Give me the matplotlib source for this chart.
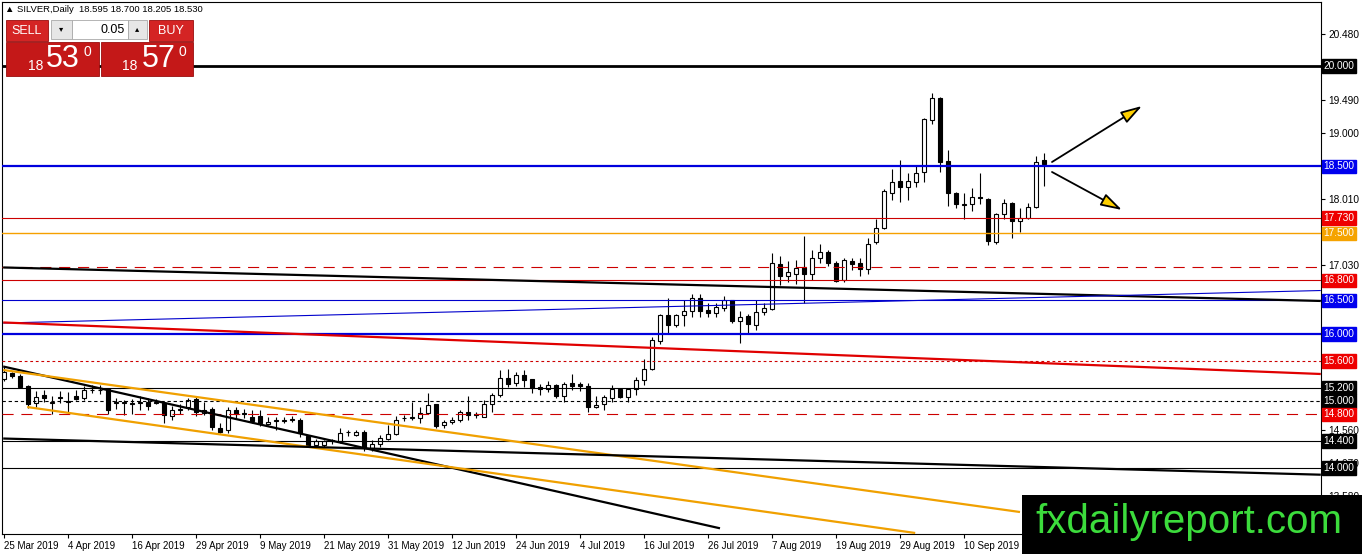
import matplotlib
matplotlib.use("Agg")
import matplotlib.pyplot as plt
from matplotlib.patches import Rectangle
from matplotlib.transforms import blended_transform_factory

plt.rcParams['font.family'] = ['Liberation Sans', 'DejaVu Sans']

# daily OHLC, 25 Mar 2019 .. late Sep 2019
opens = [15.33, 15.42, 15.38, 15.22, 14.97, 15.09, 14.97, 15.05, 14.99, 15.08,
         15.04, 15.16, 15.16, 15.18, 14.97, 14.97, 14.96, 14.97, 14.98, 14.97,
         14.97, 14.77, 14.87, 14.91, 15.03, 14.82, 14.88, 14.60, 14.56, 14.86,
         14.81, 14.76, 14.77, 14.65, 14.70, 14.70, 14.72, 14.72, 14.48, 14.35,
         14.34, 14.41, 14.40, 14.53, 14.50, 14.54, 14.30, 14.36, 14.43, 14.51,
         14.74, 14.75, 14.74, 14.82, 14.95, 14.64, 14.68, 14.71, 14.84, 14.79,
         14.76, 14.95, 15.09, 15.35, 15.27, 15.39, 15.33, 15.21, 15.18, 15.24,
         15.08, 15.27, 15.25, 15.22, 14.91, 14.95, 15.04, 15.18, 15.06, 15.18,
         15.32, 15.48, 15.90, 16.29, 16.14, 16.29, 16.34, 16.53, 16.36, 16.32,
         16.39, 16.50, 16.19, 16.27, 16.14, 16.33, 16.38, 17.05, 16.87, 16.90,
         17.00, 16.89, 17.14, 17.22, 17.06, 16.81, 17.09, 17.06, 16.97, 17.37,
         17.58, 18.11, 18.28, 18.20, 18.27, 18.42, 19.20, 19.52, 18.58, 18.10,
         17.93, 17.94, 18.04, 18.02, 17.37, 17.79, 17.95, 17.69, 17.73, 17.90,
         18.595]
highs = [15.50, 15.44, 15.40, 15.24, 15.15, 15.17, 15.07, 15.15, 15.14, 15.17,
         15.22, 15.24, 15.24, 15.20, 15.04, 15.01, 15.03, 15.07, 15.04, 15.03,
         14.99, 14.92, 14.96, 15.04, 15.07, 14.99, 14.91, 14.67, 14.91, 14.91,
         14.88, 14.86, 14.86, 14.76, 14.76, 14.76, 14.77, 14.74, 14.49, 14.44,
         14.42, 14.44, 14.59, 14.56, 14.56, 14.57, 14.42, 14.50, 14.64, 14.77,
         14.79, 14.98, 14.91, 15.12, 14.96, 14.71, 14.76, 14.86, 15.08, 14.84,
         15.01, 15.12, 15.46, 15.48, 15.43, 15.46, 15.33, 15.26, 15.30, 15.25,
         15.29, 15.41, 15.29, 15.27, 15.07, 15.09, 15.24, 15.19, 15.20, 15.36,
         15.63, 15.95, 16.30, 16.53, 16.30, 16.50, 16.60, 16.60, 16.46, 16.46,
         16.56, 16.51, 16.34, 16.30, 16.51, 16.47, 17.21, 17.17, 17.09, 17.11,
         17.46, 17.25, 17.35, 17.25, 17.09, 17.13, 17.14, 17.13, 17.43, 17.72,
         18.16, 18.46, 18.60, 18.41, 18.51, 19.22, 19.59, 19.54, 18.75, 18.12,
         18.11, 18.18, 18.41, 18.03, 17.80, 18.02, 17.97, 17.88, 17.95, 18.66,
         18.700]
lows = [15.30, 15.34, 15.19, 14.89, 14.91, 14.98, 14.80, 14.97, 14.84, 15.01,
        15.02, 15.12, 15.10, 14.81, 14.88, 14.79, 14.81, 14.86, 14.87, 14.95,
        14.67, 14.72, 14.80, 14.87, 14.77, 14.79, 14.57, 14.52, 14.52, 14.74,
        14.74, 14.67, 14.63, 14.64, 14.57, 14.67, 14.68, 14.46, 14.32, 14.32,
        14.31, 14.36, 14.37, 14.48, 14.48, 14.25, 14.25, 14.32, 14.42, 14.50,
        14.70, 14.72, 14.67, 14.80, 14.59, 14.59, 14.65, 14.68, 14.71, 14.75,
        14.76, 14.84, 15.06, 15.21, 15.22, 15.21, 15.12, 15.09, 15.14, 15.05,
        14.99, 15.17, 15.15, 14.83, 14.90, 14.86, 14.99, 15.04, 14.98, 15.09,
        15.24, 15.46, 15.85, 16.02, 16.10, 16.12, 16.26, 16.26, 16.26, 16.26,
        16.34, 16.17, 15.86, 16.02, 16.06, 16.29, 16.36, 16.73, 16.78, 16.75,
        16.47, 16.80, 17.06, 17.01, 16.78, 16.78, 16.95, 16.87, 16.90, 17.35,
        17.57, 18.00, 17.97, 18.00, 18.20, 18.27, 19.13, 18.42, 17.91, 17.88,
        17.72, 17.83, 17.94, 17.33, 17.35, 17.71, 17.44, 17.52, 17.71, 17.88,
        18.205]
closes = [15.43, 15.37, 15.21, 14.95, 15.06, 15.04, 14.98, 15.06, 15.00, 15.03,
          15.17, 15.17, 15.17, 14.87, 14.98, 14.98, 14.97, 14.98, 14.93, 14.98,
          14.79, 14.87, 14.88, 15.02, 14.84, 14.87, 14.61, 14.54, 14.86, 14.81,
          14.82, 14.70, 14.67, 14.69, 14.71, 14.71, 14.73, 14.52, 14.35, 14.41,
          14.41, 14.42, 14.52, 14.54, 14.54, 14.30, 14.36, 14.45, 14.51, 14.71,
          14.75, 14.76, 14.82, 14.94, 14.62, 14.68, 14.71, 14.83, 14.79, 14.80,
          14.95, 15.09, 15.34, 15.26, 15.39, 15.32, 15.20, 15.18, 15.24, 15.07,
          15.25, 15.23, 15.22, 14.91, 14.94, 15.06, 15.18, 15.06, 15.18, 15.31,
          15.48, 15.91, 16.28, 16.13, 16.28, 16.34, 16.53, 16.34, 16.32, 16.40,
          16.50, 16.19, 16.26, 16.15, 16.33, 16.39, 17.06, 16.87, 16.92, 16.99,
          16.89, 17.14, 17.22, 17.06, 16.79, 17.11, 17.05, 16.97, 17.35, 17.58,
          18.13, 18.27, 18.20, 18.28, 18.40, 19.21, 19.52, 18.57, 18.10, 17.94,
          17.94, 18.04, 18.03, 17.39, 17.79, 17.95, 17.68, 17.73, 17.90, 18.57,
          18.530]

date_labels = ['25 Mar 2019', '4 Apr 2019', '16 Apr 2019', '29 Apr 2019', '9 May 2019',
               '21 May 2019', '31 May 2019', '12 Jun 2019', '24 Jun 2019', '4 Jul 2019',
               '16 Jul 2019', '26 Jul 2019', '7 Aug 2019', '19 Aug 2019', '29 Aug 2019',
               '10 Sep 2019']
date_bars = [0, 8, 16, 24, 32, 40, 48, 56, 64, 72, 80, 88, 96, 104, 112, 120]

# price-scale ticks that are not covered by a level label
scale_ticks = [20.480, 19.490, 19.000, 18.010, 17.030, 14.560, 14.070, 13.580]

# horizontal levels: price, line colour, label colour, width, style, labelled
levels = [
    (20.000, 'black', 'black', 2.0, '-', True),
    (18.500, '#0000dd', '#0000ee', 1.6, '-', True),
    (17.730, '#cc0000', '#ee0000', 0.8, '-', True),
    (17.500, '#f5a000', '#f5a300', 1.0, '-', True),
    (17.000, '#cc0000', None, 0.8, (0, (10, 7)), False),
    (16.800, '#cc0000', '#ee0000', 0.8, '-', True),
    (16.500, '#0000cc', '#0000ee', 0.8, '-', True),
    (16.000, '#0000dd', '#0000ee', 1.6, '-', True),
    (15.600, '#cc0000', '#ee0000', 0.8, (0, (2.5, 2.5)), True),
    (15.200, 'black', 'black', 0.8, '-', True),
    (15.000, 'black', 'black', 0.8, (0, (3, 2.5)), True),
    (14.800, '#cc0000', '#ee0000', 0.8, (0, (10, 7)), True),
    (14.400, 'black', 'black', 0.8, '-', True),
    (14.000, 'black', 'black', 0.8, '-', True),
]

# trend lines as (bar, price) anchor pairs
trend_lines = [
    ((-0.1, 15.515), (89.5, 13.10), 'black', 1.6),
    ((-0.1, 15.463), (127.0, 13.343), '#f0a000', 1.6),
    ((2.9, 14.91), (113.9, 13.03), '#f0a000', 1.6),
    ((-0.1, 16.993), (164.6, 16.493), 'black', 1.6),
    ((-0.1, 16.164), (164.6, 16.649), '#0000cc', 0.8),
    ((-0.1, 16.172), (164.6, 15.403), '#e00000', 1.6),
    ((-0.1, 14.44), (164.6, 13.90), 'black', 1.6),
]

arrows = [((131.0, 18.567), (142.25, 19.403)),
          ((131.0, 18.418), (139.75, 17.851))]

W, H = 1362, 554
fig = plt.figure(figsize=(W / 100, H / 100), dpi=100)
ax = fig.add_axes([2 / W, (H - 534) / H, 1319 / W, 532 / H])
ax.set_xlim(-0.25, 164.625)
ax.set_ylim(13.015, 20.955)

# candles
for i in range(len(opens)):
    o, h, l, c = opens[i], highs[i], lows[i], closes[i]
    ax.vlines(i, l, h, color='black', lw=0.8, zorder=2)
    fill = 'white' if c >= o else 'black'
    ax.bar(i, abs(c - o), bottom=min(o, c), width=0.62, color=fill,
           edgecolor='black', linewidth=0.8, zorder=2)

# levels
trans = blended_transform_factory(ax.transAxes, ax.transData)
for price, col, lcol, lw, ls, labelled in levels:
    ax.axhline(price, color=col, lw=lw, ls=ls, zorder=3)
    if labelled:
        ax.text(1.0018, price, f"{price:.3f}", transform=trans, color='white',
                fontsize=7.3, ha='left', va='center', zorder=10, clip_on=False,
                bbox=dict(boxstyle='square,pad=0.18', fc=lcol, ec=lcol))

for (x0, p0), (x1, p1), col, lw in trend_lines:
    ax.plot([x0, x1], [p0, p1], color=col, lw=lw, zorder=3, solid_capstyle='butt')

for (x0, p0), (x1, p1) in arrows:
    ax.annotate('', xy=(x1, p1), xytext=(x0, p0),
                arrowprops=dict(arrowstyle='-|>,head_length=1.0,head_width=0.3',
                                fc='#ffd000', ec='black', lw=1.3, mutation_scale=13,
                                shrinkA=0, shrinkB=0),
                zorder=4)

# axes styling
for s in ax.spines.values():
    s.set_color('black')
    s.set_linewidth(0.8)
ax.yaxis.tick_right()
ax.set_yticks(scale_ticks)
ax.set_yticklabels([f"{v:.3f}" for v in scale_ticks])
ax.tick_params(axis='y', direction='out', length=3, pad=2, labelsize=7.3, width=0.8)
ax.set_xticks(date_bars)
ax.set_xticklabels(date_labels, ha='left')
ax.tick_params(axis='x', direction='out', length=3, pad=2, labelsize=7, width=0.8)


def px_rect(x0, y0, x1, y1, **kw):
    r = Rectangle((x0 / W, 1 - y1 / H), (x1 - x0) / W, (y1 - y0) / H,
                  transform=fig.transFigure, **kw)
    fig.add_artist(r)


def px_text(x, y, s, **kw):
    fig.text(x / W, 1 - y / H, s, **kw)


# header
px_text(5, 9, "\u25b2 SILVER,Daily  18.595 18.700 18.205 18.530", fontsize=6.8,
        va='center', ha='left')

# one-click trading panel
red_btn = '#d42424'
red_pan = '#c41818'
px_rect(6, 20, 48, 41, fc=red_btn, ec='#9a0d0d', lw=0.6, zorder=5)
px_rect(149, 20, 193, 41, fc=red_btn, ec='#9a0d0d', lw=0.6, zorder=5)
px_rect(6, 42, 99, 76, fc=red_pan, ec='#9a0d0d', lw=0.6, zorder=5)
px_rect(101, 42, 193, 76, fc=red_pan, ec='#9a0d0d', lw=0.6, zorder=5)
px_rect(51, 20, 72, 39, fc='#e6e6e6', ec='#a8a8a8', lw=0.6, zorder=5)
px_rect(72, 20, 128, 39, fc='white', ec='#a8a8a8', lw=0.6, zorder=5)
px_rect(128, 20, 147, 39, fc='#e6e6e6', ec='#a8a8a8', lw=0.6, zorder=5)
px_text(27, 31, "SELL", color='white', fontsize=9, ha='center', va='center', zorder=6)
px_text(171, 31, "BUY", color='white', fontsize=9, ha='center', va='center', zorder=6)
px_text(61.5, 30, "\u25be", color='black', fontsize=6, ha='center', va='center', zorder=6)
px_text(137.5, 30, "\u25b4", color='black', fontsize=6, ha='center', va='center', zorder=6)
px_text(125, 30, "0.05", color='black', fontsize=9, ha='right', va='center', zorder=6)
for x18, xbig, x0, big in [(36, 63, 87, "53"), (130, 159, 182, "57")]:
    px_text(x18, 66, "18", color='white', fontsize=10, ha='center', va='center', zorder=6)
    px_text(xbig, 59, big, color='white', fontsize=22, ha='center', va='center', zorder=6)
    px_text(x0, 52, "0", color='white', fontsize=10, ha='center', va='center', zorder=6)

# watermark
px_rect(1022, 495, 1362, 554, fc='black', ec='none', zorder=20)
px_text(1189, 522, "fxdailyreport.com", color='#3cdc3c', fontsize=29,
        ha='center', va='center', zorder=21)

fig.savefig("out.png", dpi=100)
